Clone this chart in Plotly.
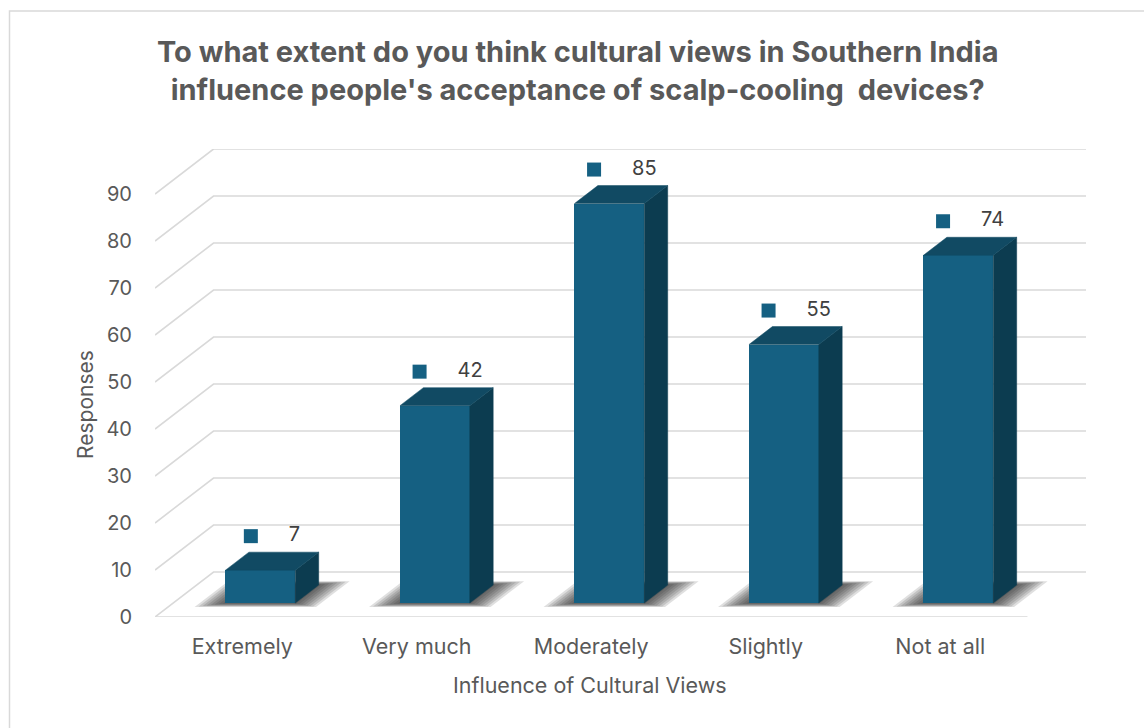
import plotly.graph_objects as go

# Survey results
categories = ["Extremely", "Very much", "Moderately", "Slightly", "Not at all"]
responses = [7, 42, 85, 55, 74]
y_ticks = [0, 10, 20, 30, 40, 50, 60, 70, 80, 90]

title_text = ("To what extent do you think cultural views in Southern India<br>"
              "influence people's acceptance of scalp-cooling  devices?")
x_title = "Influence of Cultural Views"
y_title = "Responses"

# Canvas / plot-area geometry (pixels)
W, H = 1144, 728
L, R, T, B = 155, 58, 149, 111
PX_CAT = 174.4          # pixels per category on the front plane
PX_VAL = 4.70           # pixels per response unit

# Oblique depth of the 3D box, in data units
DX = 58.5 / PX_CAT
DY = 45.0 / PX_VAL
Y_MAX = y_ticks[-1]

# Column geometry: width in category units, depth as fractions of full depth
BAR_W = 0.40
F0, F1 = 0.31, 0.71

FRONT = "#156082"
TOP = "#114A63"
SIDE = "#0C3C50"
GRID = "#D9D9D9"
TXT = "#595959"
FONT = "Inter"


def path(xs, ys):
    pts = " L ".join(f"{x:.5f},{y:.5f}" for x, y in zip(xs, ys))
    return "M " + pts + " Z"


shapes = []

# Gridlines: left wall diagonal + back wall horizontal for each tick
for v in y_ticks:
    shapes.append(dict(type="path", xref="x", yref="y", layer="below",
                       path=f"M -0.5,{v} L {-0.5 + DX:.5f},{v + DY:.5f} "
                            f"L {4.5 + DX:.5f},{v + DY:.5f}",
                       line=dict(color=GRID, width=1.6)))
# front edge of the floor
shapes.append(dict(type="line", xref="x", yref="y", layer="below",
                   x0=-0.5, x1=4.5, y0=0, y1=0,
                   line=dict(color=GRID, width=1.6)))

# Soft floor shadows under each column (stacked translucent footprints)
for i, v in enumerate(responses):
    for k in range(8):
        ex = (2 + 3.4 * k) / PX_CAT
        ed = 0.01 + 0.011 * k
        d0, d1 = max(F0 - ed, 0.0), F1 + ed
        xl = i - BAR_W / 2 - ex
        xr = i + BAR_W / 2 + ex
        px = [xl + d0 * DX, xr + d0 * DX, xr + d1 * DX, xl + d1 * DX]
        py = [d0 * DY, d0 * DY, d1 * DY, d1 * DY]
        shapes.append(dict(type="path", xref="x", yref="y", layer="below",
                           path=path(px, py),
                           fillcolor="rgba(40,40,40,0.15)",
                           line=dict(width=0)))

# Chart-area border
W_PLOT, H_PLOT = W - L - R, H - T - B


def paper_x(px):
    return (px - L) / W_PLOT


def paper_y(py):
    return (H - B - py) / H_PLOT


shapes.append(dict(type="rect", xref="paper", yref="paper",
                   x0=paper_x(9.5), x1=paper_x(1160),
                   y0=paper_y(760), y1=paper_y(11),
                   line=dict(color=GRID, width=1.5), layer="below"))

fig = go.Figure()

# Front faces of the columns
fig.add_trace(go.Bar(
    x=[i + F0 * DX for i in range(len(responses))],
    y=responses,
    base=F0 * DY,
    width=BAR_W,
    marker=dict(color=FRONT, line=dict(width=0)),
    hovertext=categories, showlegend=False,
))

# Side and top faces
dd = (F1 - F0)
for i, v in enumerate(responses):
    xl = i - BAR_W / 2 + F0 * DX
    xr = i + BAR_W / 2 + F0 * DX
    yb = F0 * DY
    yt = v + F0 * DY
    side_x = [xr, xr + dd * DX, xr + dd * DX, xr, xr]
    side_y = [yb, yb + dd * DY, yt + dd * DY, yt, yb]
    fig.add_trace(go.Scatter(x=side_x, y=side_y, mode="lines", fill="toself",
                             fillcolor=SIDE, line=dict(width=0.5, color=SIDE),
                             hoverinfo="skip", showlegend=False))
    top_x = [xl, xr, xr + dd * DX, xl + dd * DX, xl]
    top_y = [yt, yt, yt + dd * DY, yt + dd * DY, yt]
    fig.add_trace(go.Scatter(x=top_x, y=top_y, mode="lines", fill="toself",
                             fillcolor=TOP, line=dict(width=0.5, color=TOP),
                             hoverinfo="skip", showlegend=False))

# Data labels: legend key square followed by the value, centred over the column
sq_x, sq_y, tx_x, tx_y, tx = [], [], [], [], []
for i, v in enumerate(responses):
    cx = i + (F0 + F1) / 2 * DX
    cy = v + F0 * DY + 34 / PX_VAL
    label = str(v)
    tw = 11.5 * len(label)
    total = 14 + 31 + tw
    left = cx - (total / 2) / PX_CAT
    sq_x.append(left + 7 / PX_CAT)
    sq_y.append(cy)
    tx_x.append(left + 45 / PX_CAT)
    tx_y.append(cy)
    tx.append(label)
fig.add_trace(go.Scatter(x=sq_x, y=sq_y, mode="markers", hoverinfo="skip",
                         marker=dict(symbol="square", size=14, color=FRONT,
                                     line=dict(width=0)),
                         showlegend=False, cliponaxis=False))
fig.add_trace(go.Scatter(x=tx_x, y=tx_y, mode="text", text=tx,
                         textposition="middle right", hoverinfo="skip",
                         textfont=dict(family=FONT, size=20, color="#404040"),
                         showlegend=False, cliponaxis=False))

fig.update_layout(
    width=W, height=H, autosize=False,
    margin=dict(l=L, r=R, t=T, b=B, pad=0),
    paper_bgcolor="white", plot_bgcolor="white",
    font=dict(family=FONT, color=TXT),
    bargap=0,
    xaxis=dict(range=[-0.5, 4.5 + DX], showgrid=False, zeroline=False,
               showline=False, ticks="", tickvals=list(range(len(categories))),
               ticktext=categories, tickfont=dict(size=21.5, color=TXT),
               ticklabelstandoff=14, fixedrange=True),
    yaxis=dict(range=[0, Y_MAX + DY], showgrid=False, zeroline=False,
               showline=False, ticks="", tickvals=y_ticks,
               tickfont=dict(size=20, color=TXT),
               ticklabelstandoff=22, fixedrange=True),
    shapes=shapes,
    annotations=[
        dict(text="<b>" + title_text.replace("<br>", "</b><br><b>") + "</b>",
             xref="paper", yref="paper", x=paper_x(577), y=paper_y(32),
             xanchor="center", yanchor="top", showarrow=False,
             font=dict(size=29, color=TXT, family=FONT)),
        dict(text=x_title, xref="paper", yref="paper",
             x=paper_x(590), y=paper_y(685), xanchor="center", yanchor="middle",
             showarrow=False, font=dict(size=21.5, color=TXT)),
        dict(text=y_title, xref="paper", yref="paper", textangle=-90,
             x=paper_x(85), y=paper_y(405), xanchor="center", yanchor="middle",
             showarrow=False, font=dict(size=21, color=TXT)),
    ],
)

fig.write_html("out.html")
